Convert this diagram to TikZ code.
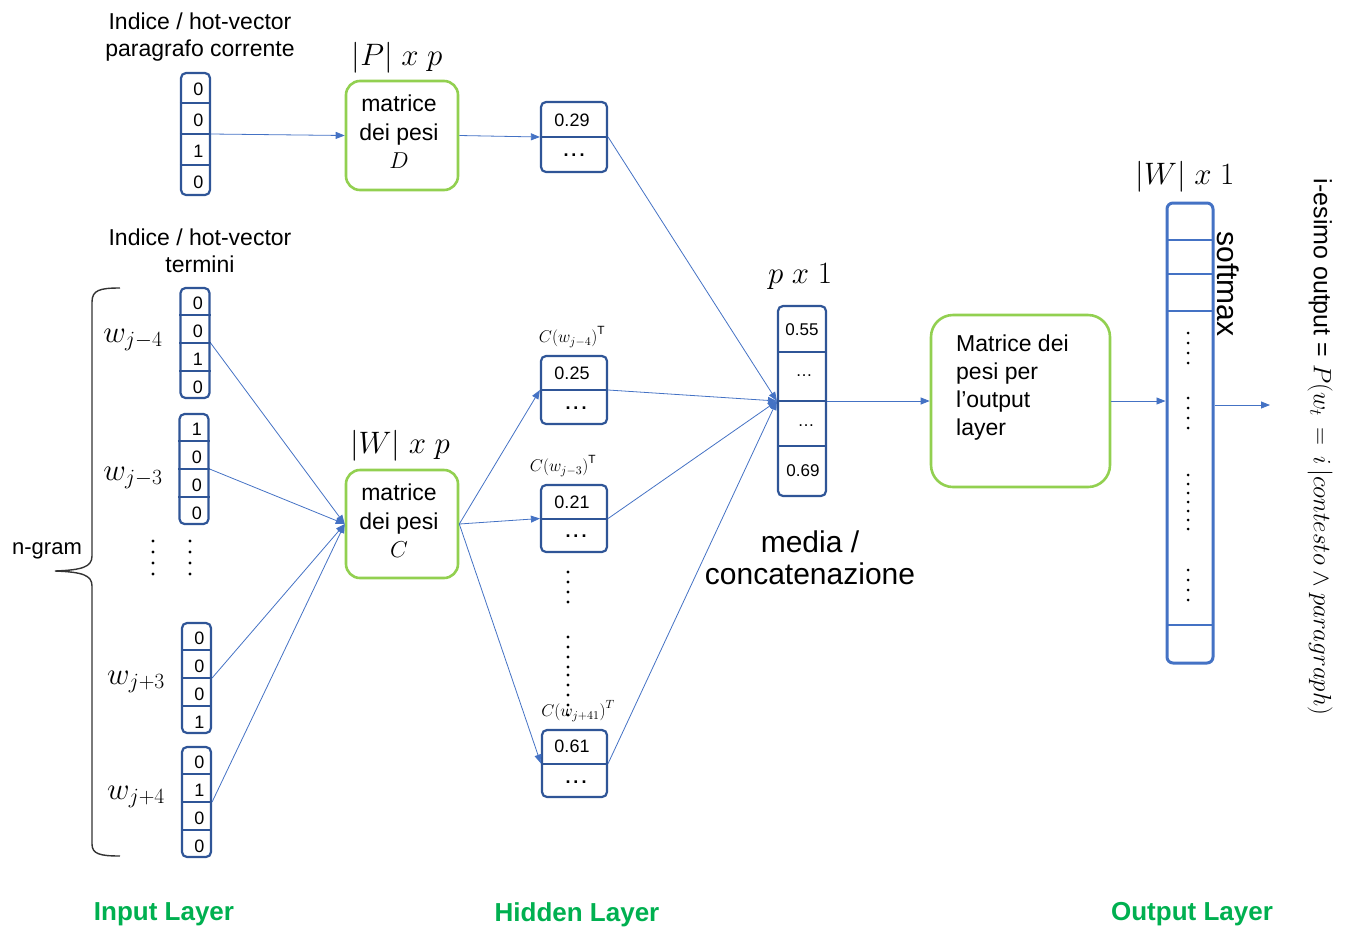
\RequirePackage{fix-cm}
\documentclass[tikz,border=0pt]{standalone}
\usepackage{fontspec}
\setmainfont{Liberation Sans}
\usetikzlibrary{arrows.meta,calc}
\definecolor{vb}{HTML}{2F5597}
\definecolor{cb}{HTML}{4472C4}
\definecolor{gr}{HTML}{92D050}
\definecolor{lg}{HTML}{00B050}
\newcommand\fs[1]{\fontsize{#1}{#1}\selectfont}
\newcommand\hotvec[8]{%
  \node[vec, minimum width=29pt, minimum height=#4pt] (#1) at (#2,#3) {};
  \foreach \k in {0.25,0.5,0.75}{\draw[vb, line width=2pt] ($(#1.north west)!\k!(#1.south west)$) -- ($(#1.north east)!\k!(#1.south east)$);}
  \node[digit] at ($(#1.north)!0.125!(#1.south)+(3,2)$) {#5};
  \node[digit] at ($(#1.north)!0.375!(#1.south)+(3,2)$) {#6};
  \node[digit] at ($(#1.north)!0.625!(#1.south)+(3,2)$) {#7};
  \node[digit] at ($(#1.north)!0.875!(#1.south)+(3,2)$) {#8};
}
\begin{document}
\begin{tikzpicture}[x=1pt,y=-1pt,
  vec/.style={draw=vb, line width=2.2pt, rounded corners=5pt, inner sep=0pt, fill=white},
  gbox/.style={draw=gr, line width=2.6pt, rounded corners=14pt, inner sep=0pt, fill=white},
  conn/.style={draw=cb, line width=0.8pt},
  arr/.style={conn, -{Triangle[length=9pt,width=7pt]}},
  digit/.style={font=\fs{18}, inner sep=0pt},
  val/.style={font=\fs{18}, inner sep=0pt},
  txt/.style={font=\fs{23}, inner sep=0pt, align=center},
  mlab/.style={font=\fs{31}, inner sep=0pt},
  slab/.style={font=\fs{17}, inner sep=0pt},
  layer/.style={font=\fs{26}\bfseries, text=lg, inner sep=0pt},
  dot/.style={fill=black, circle, inner sep=0pt, minimum size=3.2pt}
]
\useasboundingbox (0,0) rectangle (1347,930);

% ---------- input layer ----------
\node[txt] (t1) at (200,37) {Indice / hot-vector\\[4pt]paragrafo corrente};
\hotvec{pv}{195.5}{134}{122}{0}{0}{1}{0}

\node[txt] (t2) at (200,251) {Indice / hot-vector\\[4pt]termini};
\hotvec{v1}{195}{343}{110}{0}{0}{1}{0}
\hotvec{v2}{194}{469}{110}{1}{0}{0}{0}
\hotvec{v3}{196.5}{678}{110}{0}{0}{0}{1}
\hotvec{v4}{196.5}{802}{110}{0}{1}{0}{0}

\node[mlab] (l1) at (133,340) {$w_{j-4}$};
\node[mlab] (l2) at (133,478) {$w_{j-3}$};
\node[mlab] (l3) at (136,682) {$w_{j+3}$};
\node[mlab] (l4) at (136,797) {$w_{j+4}$};

\foreach \yy in {541,552,563,574}{\node[dot] at (153,\yy) {}; \node[dot] at (190,\yy) {};}

\draw[line width=1.4pt, black!80] (120,288) .. controls (100,288) and (92,290) .. (92,302) -- (92,556)
  .. controls (92,567) and (82,570) .. (55,571) .. controls (82,572) and (92,575) .. (92,586)
  -- (92,844) .. controls (92,854) and (100,856) .. (120,856);
\node[txt, font=\fs{22}] (ng) at (47,551) {n-gram};

% ---------- weight matrices ----------
\node[gbox, minimum width=112pt, minimum height=109pt] (D) at (402,135.5) {};
\node[txt, font=\fs{23}] at (399,132) {matrice\\[6pt]dei pesi\\[5pt]$D$};
\node[mlab] (pl) at (397,58) {$|P|\ x\ p$};

\node[gbox, minimum width=112pt, minimum height=108pt] (C) at (402,524) {};
\node[txt, font=\fs{23}] at (399,521) {matrice\\[6pt]dei pesi\\[5pt]$C$};
\node[mlab] (wl) at (400,446) {$|W|\ x\ p$};

% ---------- hidden layer ----------
\node[vec, minimum width=66pt, minimum height=70pt] (h1) at (574,137) {};
\draw[vb, line width=2pt] (h1.west) -- (h1.east);
\node[val] at (572,120) {0.29};
\node[val] at (574,155) {\textbf{.\hspace{3pt}.\hspace{3pt}.}};

\node[vec, minimum width=66pt, minimum height=68pt] (h2) at (574,390) {};
\draw[vb, line width=2pt] (h2.west) -- (h2.east);
\node[val] at (572,373) {0.25};
\node[val] at (576,408) {\textbf{.\hspace{3pt}.\hspace{3pt}.}};
\node[slab] at (572,337) {$C\bigl(w_{j-4}\bigr)^{\mathrm{T}}$};

\node[vec, minimum width=66pt, minimum height=67pt] (h3) at (574,518.5) {};
\draw[vb, line width=2pt] (h3.west) -- (h3.east);
\node[val] at (572,502) {0.21};
\node[val] at (576,536) {\textbf{.\hspace{3pt}.\hspace{3pt}.}};
\node[slab] at (563,466) {$C\bigl(w_{j-3}\bigr)^{\mathrm{T}}$};

\node[vec, minimum width=65pt, minimum height=67pt] (h4) at (574.5,763.5) {};
\draw[vb, line width=2pt] (h4.west) -- (h4.east);
\node[val] at (572,746) {0.61};
\node[val] at (576,782) {\textbf{.\hspace{3pt}.\hspace{3pt}.}};
\node[slab] at (578,711) {$C\bigl(w_{j+41}\bigr)^{T}$};

\foreach \yy in {572,582,592,602,637,647,657,667,675,685,695,705,715}{\node[dot] at (568,\yy) {};}

% ---------- concatenation ----------
\node[vec, minimum width=48pt, minimum height=190pt] (cc) at (802,401) {};
\draw[vb, line width=2pt] (778,352) -- (826,352);
\draw[vb, line width=2pt] (cc.west) -- (cc.east);
\draw[vb, line width=2pt] (778,446) -- (826,446);
\node[val, font=\fs{17}] at (802,330) {0.55};
\node[val, font=\fs{17}] at (804,376) {\dots};
\node[val, font=\fs{17}] at (806,426) {\dots};
\node[val, font=\fs{17}] at (803,471) {0.69};
\node[mlab] (pxl) at (800,277) {$p\ x\ 1$};
\node[txt, font=\fs{30}] (mc) at (810,558) {media /\\[2pt]concatenazione};

% ---------- output layer ----------
\node[gbox, minimum width=179pt, minimum height=172pt, rounded corners=22pt] (om) at (1020.5,401) {};
\node[txt, font=\fs{23}, align=left, anchor=west] at (956,388) {Matrice dei\\[5pt]pesi per\\[5pt]l’output\\[5pt]layer};

\node[draw=cb, line width=3pt, rounded corners=6pt, inner sep=0pt, fill=white, minimum width=46pt, minimum height=460pt] (ov) at (1190,433) {};
\foreach \yy in {240,274,311,625}{\draw[cb, line width=2pt] (1167,\yy) -- (1213,\yy);}
\foreach \yy in {333,343,353,363, 398,408,418,428, 475,484,493,502,511,520,529, 570,580,590,600}{\node[dot, minimum size=3pt] at (1188,\yy) {};}
\node[txt, font=\fs{30}, rotate=-90] (sm) at (1228,284) {softmax};
\node[mlab] (wxl) at (1185,177) {$|W|\ x\ 1$};

\node[font=\fs{25}, rotate=-90, inner sep=0pt] (res) at (1320,447) {i-esimo output = $P(w_t\,=\,i\,|contesto \wedge paragraph)$};
\coordinate (oe) at (1270,405);

% ---------- connectors ----------
\draw[arr] (pv.east) -- (D.west);
\draw[arr] (D.east) -- (h1.west);
\draw[arr] (v1.east) -- (C.west);
\draw[arr] (v2.east) -- (C.west);
\draw[arr] (v3.east) -- (C.west);
\draw[arr] (v4.east) -- (C.west);
\draw[arr] (C.east) -- (h2.west);
\draw[arr] (C.east) -- (h3.west);
\draw[arr] (C.east) -- (h4.west);
\draw[arr] (h1.east) -- (cc.west);
\draw[arr] (h2.east) -- (cc.west);
\draw[arr] (h3.east) -- (cc.west);
\draw[arr] (h4.east) -- (cc.west);
\draw[arr] (cc.east) -- (om.west);
\draw[arr] (om.east) -- (om.east -| ov.west);
\draw[arr] (ov.east |- oe) -- (oe);

% ---------- layer labels ----------
\node[layer] at (164,914) {Input Layer};
\node[layer] at (577,915) {Hidden Layer};
\node[layer] at (1192,914) {Output Layer};
\end{tikzpicture}
\end{document}
